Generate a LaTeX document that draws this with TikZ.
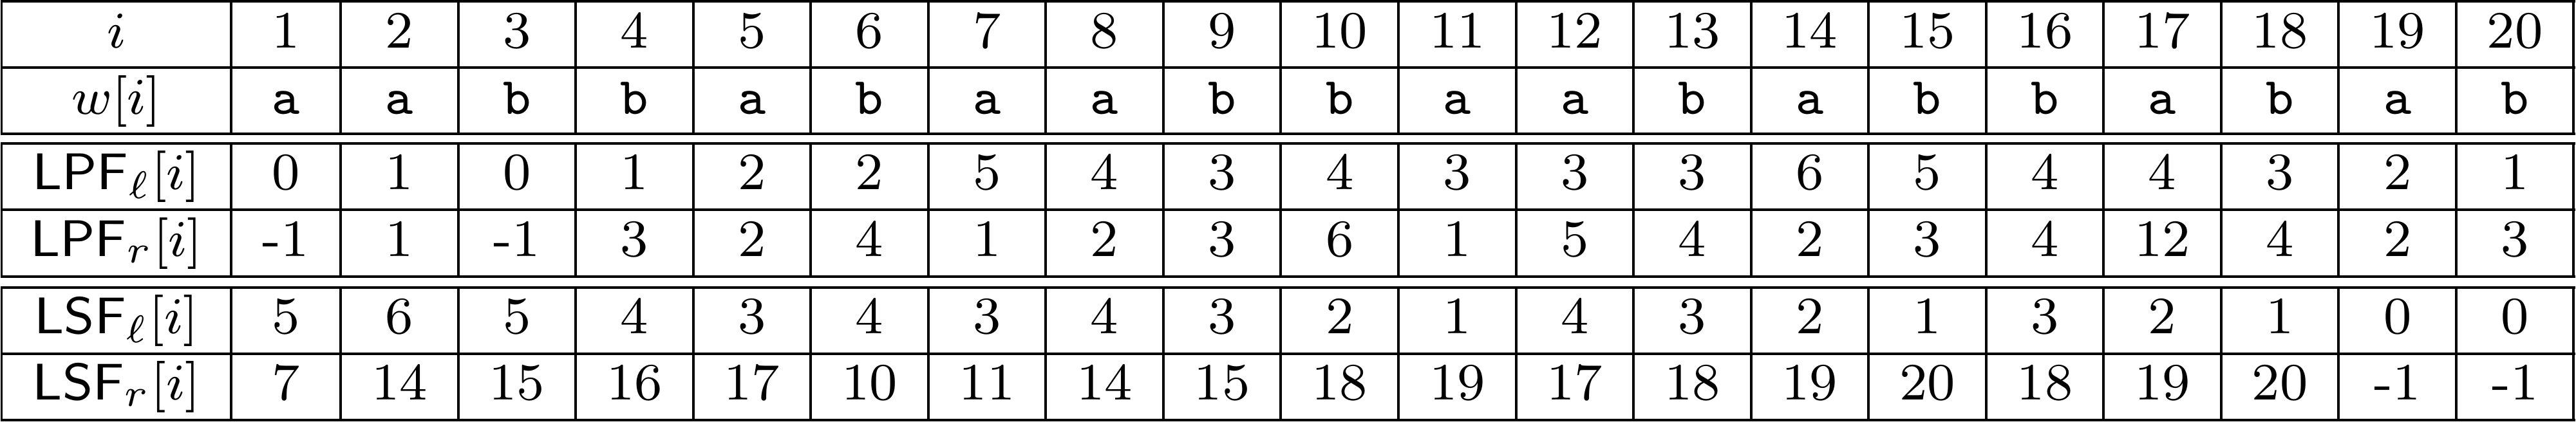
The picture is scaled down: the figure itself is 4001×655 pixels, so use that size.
\documentclass[tikz,border=0pt]{standalone}
\begin{document}
\begin{tikzpicture}[x=0.1pt,y=-0.1pt,
  rule/.style={draw=black, line width=0.4pt, line cap=rect},
  cell/.style={anchor=base, inner sep=0pt, font=\fontsize{8.15}{9.8}\selectfont}]
\useasboundingbox (0,0) rectangle (4001,655);
% ---------- rules ----------
\foreach \ta/\tb/\tc in {2/105/208, 222.5/326/429.5, 446.5/549.5/652.7}{
  \draw[rule] (2.5,\ta) -- (3997.5,\ta);
  \draw[rule] (2.5,\tb) -- (3997.5,\tb);
  \draw[rule] (2.5,\tc) -- (3997.5,\tc);
  \draw[rule] (2.5,\ta) -- (2.5,\tc);
  \draw[rule] (359,\ta) -- (359,\tc);
  \foreach \k in {2,...,21}{
    \pgfmathsetmacro\lx{529+182.55*(\k-2)}
    \draw[rule] (\lx,\ta) -- (\lx,\tc);
  }
}
% ---------- row labels ----------
\node[cell] (h1) at (180.8,74)    {$i$};
\node[cell] (h2) at (180.8,177)   {$w[i]$};
\node[cell] (h3) at (180.8,294.7) {$\mathsf{LPF}_\ell[i]$};
\node[cell] (h4) at (180.8,398.2) {$\mathsf{LPF}_r[i]$};
\node[cell] (h5) at (180.8,518.6) {$\mathsf{LSF}_\ell[i]$};
\node[cell] (h6) at (180.8,621.6) {$\mathsf{LSF}_r[i]$};
% ---------- cells ----------
\foreach \v [count=\k] in {1,2,3,4,5,6,7,8,9,10,11,12,13,14,15,16,17,18,19,20}{
  \pgfmathsetmacro\cx{\k==1 ? 444 : 620.3+182.55*(\k-2)}
  \node[cell] (ri-\k) at (\cx,74) {\v};
}
\foreach \v [count=\k] in {a,a,b,b,a,b,a,a,b,b,a,a,b,a,b,b,a,b,a,b}{
  \pgfmathsetmacro\cx{\k==1 ? 444 : 620.3+182.55*(\k-2)}
  \node[cell] (rw-\k) at (\cx,177) {\texttt{\v}};
}
\foreach \v [count=\k] in {0,1,0,1,2,2,5,4,3,4,3,3,3,6,5,4,4,3,2,1}{
  \pgfmathsetmacro\cx{\k==1 ? 444 : 620.3+182.55*(\k-2)}
  \node[cell] (rpl-\k) at (\cx,294.7) {\v};
}
\foreach \v [count=\k] in {-1,1,-1,3,2,4,1,2,3,6,1,5,4,2,3,4,12,4,2,3}{
  \pgfmathsetmacro\cx{\k==1 ? 444 : 620.3+182.55*(\k-2)}
  \node[cell] (rpr-\k) at (\cx,398.2) {\v};
}
\foreach \v [count=\k] in {5,6,5,4,3,4,3,4,3,2,1,4,3,2,1,3,2,1,0,0}{
  \pgfmathsetmacro\cx{\k==1 ? 444 : 620.3+182.55*(\k-2)}
  \node[cell] (rsl-\k) at (\cx,518.6) {\v};
}
\foreach \v [count=\k] in {7,14,15,16,17,10,11,14,15,18,19,17,18,19,20,18,19,20,-1,-1}{
  \pgfmathsetmacro\cx{\k==1 ? 444 : 620.3+182.55*(\k-2)}
  \node[cell] (rsr-\k) at (\cx,621.6) {\v};
}
\end{tikzpicture}
\end{document}
